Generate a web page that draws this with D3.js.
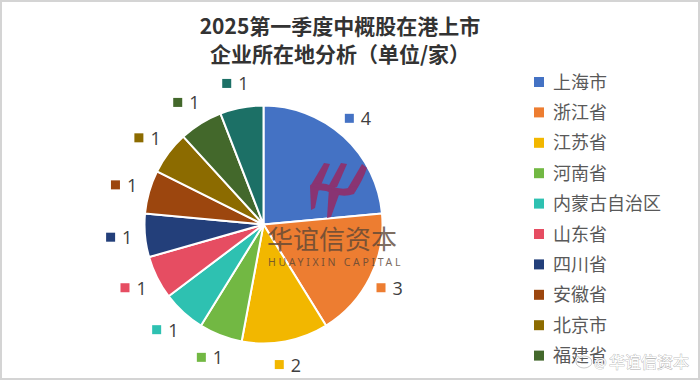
<!DOCTYPE html>
<html><head><meta charset="utf-8">
<script src="https://cdn.jsdelivr.net/npm/d3@7/dist/d3.min.js"></script>
<style>body{margin:0;background:#fff}svg{display:block}</style>
</head><body>
<svg id="c" width="700" height="380"></svg>
<script>
const categories = ["上海市","浙江省","江苏省","河南省","内蒙古自治区","山东省","四川省","安徽省","北京市","福建省","广东省"];
const values = [4,3,2,1,1,1,1,1,1,1,1];
const colors = ["#4472C4","#ED7D31","#F2B700","#72B843","#2EC1B1","#E64D62","#233F7A","#9C460E","#8C6B00","#43682B","#1C7066"];
const titleLines = ["2025第一季度中概股在港上市","企业所在地分析（单位/家）"];
const legendShown = 10; // the reference legend is clipped after 10 entries

const svg = d3.select("#c");
svg.append("rect").attr("x",1).attr("y",1).attr("width",698).attr("height",378)
  .attr("fill","#fff").attr("stroke","#d4d4d4").attr("stroke-width",2);

const data = categories.map((c,i)=>({cat:c,val:values[i],col:colors[i]}));
const cx = 263.5, cy = 224.5, R = 119, LR = 143;
const pie = d3.pie().value(d=>d.val).sort(null);
const arcs = pie(data);
const arc = d3.arc().innerRadius(0).outerRadius(R);
const g = svg.append("g").attr("transform",`translate(${cx},${cy})`);
g.selectAll("path").data(arcs).join("path")
  .attr("d",arc).attr("fill",d=>d.data.col)
  .attr("stroke","#fff").attr("stroke-width",2).attr("stroke-linejoin","round");

// labels
const lab = g.selectAll("g.lab").data(arcs).join("g").attr("class","lab")
  .attr("transform",d=>{const a=(d.startAngle+d.endAngle)/2;return `translate(${LR*Math.sin(a)},${-LR*Math.cos(a)})`;});
lab.append("rect").attr("x",-15).attr("y",-5).attr("width",9).attr("height",9).attr("fill",d=>d.data.col);
lab.append("text").attr("x",1).attr("y",6.5).text(d=>d.data.val)
  .attr("font-family","'Open Sans','Noto Sans',sans-serif").attr("font-size",18).attr("fill","#404040");

// watermark logo
const wm = svg.append("g").attr("fill","#8F2F6C").attr("opacity",0.92);
wm.append("path").attr("d","M324,163 L330,164 L321,185 L311,185 Z");
wm.append("path").attr("d","M341,163 L347,164 L337,187 L328,187 Z");
wm.append("path").attr("d","M362,164 L367,168 Q363,180 355,192 L345,193 Z");
wm.append("path").attr("d","M310,185 Q322,181 332,186 Q342,191 352,187 L358,186 L354,194 Q343,198 332,193 Q321,188 312,192 Z");
wm.append("path").attr("d","M310,186 L319,188 L315,208 L311,210 Z");
wm.append("path").attr("d","M329,188 L340,192 L331,217 L327,218 Z");
// watermark text
svg.append("text").attr("x",267).attr("y",248.5).text("华谊信资本")
  .attr("font-family","'Noto Sans CJK SC',sans-serif").attr("font-size",26)
  .attr("fill","#5b4636").attr("opacity",0.78);
svg.append("text").attr("x",268).attr("y",266).text("HUAYIXIN CAPITAL")
  .attr("font-family","'Noto Sans',sans-serif").attr("font-size",10.5).attr("letter-spacing",2.7)
  .attr("fill","#5b4636").attr("opacity",0.8);

// title
svg.append("g").selectAll("text").data(titleLines).join("text")
  .attr("x",340).attr("y",(d,i)=>34+i*28).attr("text-anchor","middle").text(d=>d)
  .attr("font-family","'Noto Sans CJK SC',sans-serif").attr("font-weight","bold")
  .attr("font-size",21).attr("fill","#333");

// legend
const lg = svg.append("g").selectAll("g").data(data.slice(0,legendShown)).join("g")
  .attr("transform",(d,i)=>`translate(534,${82+i*30.4})`);
lg.append("rect").attr("x",0).attr("y",-5).attr("width",10).attr("height",10).attr("fill",d=>d.col);
lg.append("text").attr("x",19).attr("y",6.5).text(d=>d.cat)
  .attr("font-family","'Noto Sans CJK SC',sans-serif").attr("font-size",18).attr("fill","#595959");

// weibo watermark
const wb = svg.append("g");
wb.append("ellipse").attr("cx",584).attr("cy",362).attr("rx",8).attr("ry",6)
  .attr("fill","none").attr("stroke","#fff").attr("stroke-width",2.5);
wb.append("ellipse").attr("cx",584).attr("cy",362).attr("rx",8).attr("ry",6)
  .attr("fill","none").attr("stroke","#bbb").attr("stroke-width",0.8);
wb.append("text").attr("x",609).attr("y",368).text("华谊信资本")
  .attr("font-family","'Noto Sans CJK SC',sans-serif").attr("font-size",16)
  .attr("fill","#fff").attr("stroke","#aaa").attr("stroke-width",0.7).attr("paint-order","stroke");
wb.append("text").attr("x",594).attr("y",368).text("@")
  .attr("font-family","'Noto Sans',sans-serif").attr("font-size",14)
  .attr("fill","#fff").attr("stroke","#aaa").attr("stroke-width",0.7).attr("paint-order","stroke");
</script>
</body></html>
